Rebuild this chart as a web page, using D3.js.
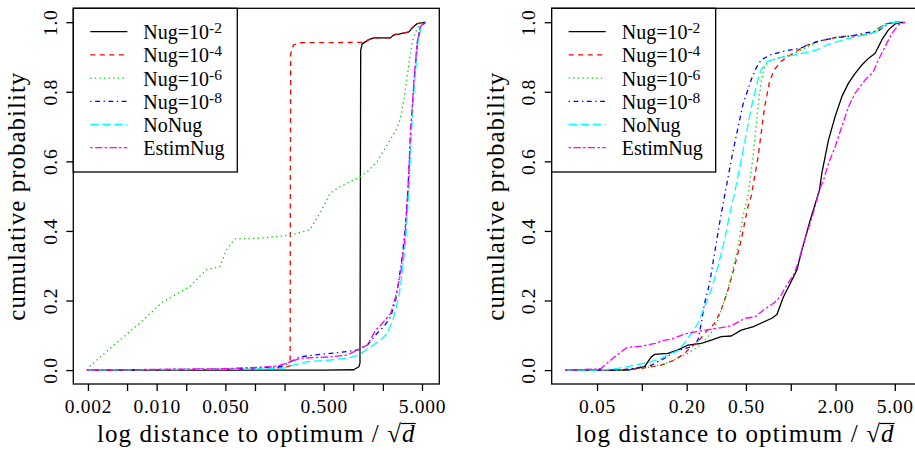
<!DOCTYPE html>
<html>
<head>
<meta charset="utf-8">
<script src="https://cdn.jsdelivr.net/npm/d3@7"></script>
<style>
  html, body { margin: 0; padding: 0; background: #fff; }
  svg { display: block; }
  text { font-family: "Liberation Serif", "Times New Roman", serif; fill: #000; }
</style>
</head>
<body>
<svg id="chart" width="915" height="450"></svg>
<script>
// ---------------- DATA ----------------
const seriesNames = ["Nug=10", "Nug=10", "Nug=10", "Nug=10", "NoNug", "EstimNug"];
const seriesExponents = ["-2", "-4", "-6", "-8", "", ""];
const seriesColors = ["#000000", "#FF0000", "#00CD00", "#0000FF", "#00FFFF", "#FF00FF"];

const yTicks = [0, 0.2, 0.4, 0.6, 0.8, 1.0];
const yTickLabels = ["0.0", "0.2", "0.4", "0.6", "0.8", "1.0"];

const leftXTicks = [0.002, 0.005, 0.01, 0.02, 0.05, 0.1, 0.2, 0.5, 1, 2, 5];
const leftXTickLabels = ["0.002", "", "0.010", "", "0.050", "", "", "0.500", "", "", "5.000"];
const rightXTicks = [0.05, 0.1, 0.2, 0.5, 1, 2, 5];
const rightXTickLabels = ["0.05", "", "0.20", "0.50", "", "2.00", "5.00"];

const xTitle = "log distance to optimum / ";
const yTitle = "cumulative probability";

// left panel: [distance, cumulative probability]
const leftNug2 = [[0.00195,0],[0.5,0],[1.01,0.001],[1.14,0.0095],[1.17,0.02],[1.18,0.5],[1.19,0.92],[1.23,0.937],[1.3,0.942],[1.44,0.95],[1.62,0.955],[2.39,0.955],[2.59,0.964],[2.91,0.966],[3.68,0.972],[3.99,0.984],[4.48,0.996],[5.45,1.0]];
const leftNug4 = [[0.00195,0],[0.1,0.002],[0.2,0.008],[0.228,0.012],[0.229,0.5],[0.231,0.91],[0.247,0.935],[0.289,0.941],[1.28,0.942],[1.44,0.95],[1.62,0.955],[2.39,0.955],[2.59,0.964],[2.91,0.966],[3.68,0.972],[3.99,0.984],[4.48,0.996],[5.45,1.0]];
const leftNug6 = [[0.00195,0],[0.00206,0.0095],[0.00386,0.077],[0.00669,0.134],[0.01156,0.196],[0.0217,0.240],[0.032,0.288],[0.0439,0.297],[0.0512,0.345],[0.0624,0.377],[0.112,0.379],[0.227,0.388],[0.31,0.398],[0.361,0.403],[0.458,0.451],[0.58,0.508],[0.733,0.527],[1.17,0.556],[1.39,0.570],[1.75,0.600],[2.22,0.648],[2.8,0.696],[3.03,0.725],[3.27,0.777],[3.55,0.849],[3.99,0.945],[4.49,0.984],[4.85,0.998],[5.33,1.0]];
const leftNug8 = [[0.00195,0],[0.05,0.003],[0.15,0.008],[0.195,0.012],[0.229,0.024],[0.289,0.038],[0.396,0.043],[0.585,0.048],[0.867,0.053],[1.14,0.059],[1.39,0.072],[1.75,0.106],[2.05,0.125],[2.40,0.153],[2.70,0.201],[2.91,0.259],[3.15,0.326],[3.41,0.422],[3.60,0.518],[3.83,0.681],[4.14,0.825],[4.49,0.94],[4.85,0.987],[5.46,1.0]];
const leftNoNug = [[0.00195,0],[0.1,0.003],[0.2,0.006],[0.247,0.014],[0.339,0.024],[0.585,0.029],[0.867,0.034],[1.14,0.043],[1.50,0.067],[1.90,0.086],[2.22,0.106],[2.59,0.153],[2.91,0.211],[3.15,0.278],[3.41,0.374],[3.68,0.518],[3.9,0.68],[4.2,0.825],[4.55,0.94],[4.9,0.987],[5.46,1.0]];
const leftEstimNug = [[0.00195,0],[0.05,0.004],[0.15,0.01],[0.181,0.014],[0.229,0.024],[0.289,0.034],[0.585,0.038],[0.867,0.043],[1.10,0.058],[1.39,0.072],[1.69,0.115],[1.90,0.129],[2.40,0.163],[2.70,0.211],[3.03,0.278],[3.33,0.374],[3.60,0.518],[3.83,0.69],[4.14,0.83],[4.45,0.94],[4.8,0.988],[5.4,1.0]];

// right panel
const rightNug2 = [[0.0306,0],[0.0807,0],[0.1043,0.01],[0.1157,0.038],[0.1218,0.045],[0.1498,0.048],[0.1748,0.058],[0.204,0.072],[0.2506,0.077],[0.2925,0.086],[0.3413,0.096],[0.3984,0.098],[0.465,0.115],[0.5623,0.125],[0.6404,0.136],[0.7474,0.149],[0.8075,0.16],[0.8939,0.211],[0.9915,0.249],[1.0998,0.288],[1.188,0.345],[1.351,0.431],[1.56,0.518],[1.618,0.566],[1.792,0.661],[1.987,0.729],[2.204,0.786],[2.441,0.825],[2.707,0.853],[3.002,0.877],[3.325,0.896],[3.688,0.911],[4.09,0.949],[4.529,0.978],[5.023,0.995],[5.71,1.0]];
const rightNug4 = [[0.0306,0],[0.0692,0],[0.0992,0.005],[0.135,0.014],[0.1659,0.029],[0.1936,0.048],[0.2147,0.067],[0.2381,0.081],[0.2637,0.106],[0.3078,0.134],[0.3413,0.173],[0.3786,0.230],[0.4193,0.297],[0.465,0.374],[0.5156,0.470],[0.5428,0.5],[0.602,0.610],[0.6666,0.754],[0.7203,0.830],[0.778,0.864],[0.8627,0.888],[1.007,0.907],[1.237,0.931],[1.521,0.945],[2.092,0.958],[3.002,0.963],[3.504,0.968],[3.88,0.982],[4.304,0.995],[5.023,1.0],[5.511,1.0]];
const rightNug6 = [[0.0306,0],[0.0692,0],[0.0894,0.002],[0.1157,0.0095],[0.1498,0.021],[0.1748,0.034],[0.204,0.048],[0.2381,0.067],[0.2637,0.086],[0.2925,0.106],[0.3244,0.144],[0.3592,0.201],[0.3984,0.268],[0.4418,0.355],[0.4773,0.441],[0.5156,0.5],[0.5572,0.610],[0.602,0.754],[0.6335,0.830],[0.6666,0.873],[0.7203,0.888],[0.82,0.897],[1.007,0.907],[1.237,0.925],[1.521,0.945],[2.092,0.958],[3.002,0.963],[3.504,0.968],[3.88,0.982],[4.304,0.995],[5.023,1.0],[5.511,1.0]];
const rightNug8 = [[0.0306,0],[0.0692,0],[0.0894,0.005],[0.1157,0.014],[0.1421,0.034],[0.1659,0.053],[0.1936,0.062],[0.2147,0.067],[0.2381,0.086],[0.2506,0.134],[0.2637,0.192],[0.2849,0.249],[0.3078,0.336],[0.3325,0.422],[0.3592,0.5],[0.4091,0.629],[0.4773,0.763],[0.5428,0.835],[0.5864,0.869],[0.6335,0.892],[0.7394,0.907],[0.9081,0.917],[1.175,0.926],[1.521,0.945],[1.966,0.955],[2.545,0.960],[3.126,0.969],[3.845,0.974],[4.258,0.988],[4.723,0.998],[5.657,1.0]];
const rightNoNug = [[0.0306,0],[0.0534,0],[0.0692,0.005],[0.0894,0.014],[0.1157,0.024],[0.135,0.034],[0.1576,0.048],[0.1748,0.056],[0.1936,0.077],[0.2147,0.106],[0.2381,0.134],[0.2637,0.182],[0.2925,0.230],[0.3244,0.297],[0.3592,0.374],[0.3984,0.470],[0.4155,0.5],[0.4773,0.629],[0.5428,0.754],[0.602,0.835],[0.6335,0.864],[0.7027,0.888],[0.82,0.897],[0.957,0.902],[1.237,0.912],[1.521,0.921],[1.775,0.936],[2.295,0.950],[3.126,0.964],[3.745,0.972],[4.258,0.991],[4.723,0.998],[5.511,1.0]];
const rightEstimNug = [[0.0306,0],[0.05,0.003],[0.0534,0.005],[0.0598,0.024],[0.0657,0.038],[0.0795,0.065],[0.1002,0.069],[0.1231,0.077],[0.1365,0.084],[0.1593,0.090],[0.1957,0.104],[0.2284,0.110],[0.2666,0.115],[0.3244,0.120],[0.4027,0.128],[0.4945,0.149],[0.5775,0.153],[0.6564,0.173],[0.7661,0.192],[0.8495,0.211],[0.918,0.237],[1.0435,0.273],[1.127,0.311],[1.218,0.364],[1.351,0.422],[1.459,0.470],[1.56,0.518],[1.659,0.546],[1.792,0.594],[1.987,0.642],[2.204,0.700],[2.441,0.757],[2.707,0.796],[3.16,0.834],[3.592,0.858],[3.88,0.892],[4.304,0.930],[4.775,0.968],[5.286,0.992],[5.863,1.0]];

const leftSeries = [leftNug2, leftNug4, leftNug6, leftNug8, leftNoNug, leftEstimNug];
const rightSeries = [rightNug2, rightNug4, rightNug6, rightNug8, rightNoNug, rightEstimNug];

// ---------------- STYLE ----------------
const dashes = ["", "5,4.5", "1.3,3.3", "1.3,3.6,4.8,3.6", "8.4,3.6", "2.4,2.4,7.2,2.4"];
const LW = 1.3;

const svg = d3.select("#chart");

function panel(cfg) {
  const { left, right, top, bottom, series, xTicks, xTickLabels } = cfg;
  const g = svg.append("g");

  // R-style padded domains (4%) in log space
  const allX = series.flat().map(d => d[0]);
  const lx = d3.extent(allX).map(Math.log10);
  const padX = (lx[1] - lx[0]) * 0.04;
  const x = d3.scaleLog()
    .domain([Math.pow(10, lx[0] - padX), Math.pow(10, lx[1] + padX)])
    .range([left, right]);
  const y = d3.scaleLinear().domain([-0.04, 1.04]).range([bottom, top]);

  const cid = "clip" + Math.round(left);
  svg.append("clipPath").attr("id", cid)
    .append("rect").attr("x", left).attr("y", top)
    .attr("width", right - left).attr("height", bottom - top);

  const line = d3.line().x(d => x(d[0])).y(d => y(d[1]));
  const lg = g.append("g").attr("clip-path", `url(#${cid})`);
  series.forEach((s, i) => {
    lg.append("path")
      .attr("d", line(s))
      .attr("fill", "none")
      .attr("stroke", seriesColors[i])
      .attr("stroke-width", LW)
      .attr("stroke-dasharray", dashes[i] || null)
      .attr("stroke-linejoin", "round");
  });

  // x axis
  const xAxis = d3.axisBottom(x)
    .tickValues(xTicks)
    .tickSize(7)
    .tickFormat((d, i) => xTickLabels[i]);
  const xg = g.append("g").attr("transform", `translate(0,${bottom})`).call(xAxis);
  xg.select(".domain").remove();
  xg.selectAll(".tick line").attr("stroke", "#000").attr("stroke-width", LW);
  xg.selectAll(".tick text")
    .attr("y", 28.7).attr("dy", 0)
    .style("font-family", "Liberation Serif, serif")
    .style("font-size", "19.5px")
    .style("letter-spacing", "0.7px").attr("fill", "#000");

  // y axis
  const yAxis = d3.axisLeft(y)
    .tickValues(yTicks)
    .tickSize(7)
    .tickFormat((d, i) => yTickLabels[i]);
  const yg = g.append("g").attr("transform", `translate(${left},0)`).call(yAxis);
  yg.select(".domain").remove();
  yg.selectAll(".tick line").attr("stroke", "#000").attr("stroke-width", LW);
  yg.selectAll(".tick text")
    .attr("transform", "rotate(-90)")
    .attr("x", 0).attr("y", -16.5).attr("dy", 0)
    .attr("text-anchor", "middle")
    .style("font-family", "Liberation Serif, serif")
    .style("font-size", "19.5px")
    .style("letter-spacing", "0.7px").attr("fill", "#000");

  // box
  g.append("rect")
    .attr("x", left).attr("y", top)
    .attr("width", right - left).attr("height", bottom - top)
    .attr("fill", "none").attr("stroke", "#000").attr("stroke-width", LW);

  // x title with sqrt(d)
  const cx = (left + right) / 2;
  const xt = g.append("text")
    .attr("x", cx).attr("y", 442)
    .attr("text-anchor", "middle")
    .style("font-size", "25px")
    .style("letter-spacing", "1.1px");
  xt.append("tspan").text(xTitle);
  const rad = xt.append("tspan").text("\u221A");
  const dd = xt.append("tspan").attr("font-style", "italic").text("d");
  const radNode = rad.node(), dNode = dd.node();
  const xs = radNode.getEndPositionOfChar(0).x - 1.2;
  const xe = dNode.getEndPositionOfChar(0).x;
  g.append("line")
    .attr("x1", xs).attr("x2", xe)
    .attr("y1", 423.5).attr("y2", 423.5)
    .attr("stroke", "#000").attr("stroke-width", 1.2);

  // y title
  const cy = (top + bottom) / 2;
  g.append("text")
    .attr("transform", `translate(${left - 48},${cy}) rotate(-90)`)
    .attr("text-anchor", "middle")
    .style("font-size", "25px")
    .style("letter-spacing", "1px")
    .text(yTitle);

  // legend
  const legW = 164, legH = 172 - top;
  g.append("rect")
    .attr("x", left).attr("y", top)
    .attr("width", legW).attr("height", legH)
    .attr("fill", "#fff").attr("stroke", "#000").attr("stroke-width", LW);
  const rowY = d3.scaleLinear().domain([0, 5]).range([top + 23.4, top + 139.4]);
  seriesNames.forEach((nm, i) => {
    const yy = rowY(i);
    g.append("line")
      .attr("x1", left + 17).attr("x2", left + 54)
      .attr("y1", yy).attr("y2", yy)
      .attr("stroke", seriesColors[i]).attr("stroke-width", LW)
      .attr("stroke-dasharray", dashes[i] || null);
    const t = g.append("text")
      .attr("x", left + 70).attr("y", yy + 7.5)
      .style("font-size", "20px");
    t.append("tspan").text(nm);
    if (seriesExponents[i]) {
      t.append("tspan").attr("dy", -6).style("font-size", "15.5px").text(seriesExponents[i]);
    }
  });
}

panel({ left: 73.3, right: 439.3, top: 8.3, bottom: 384, series: leftSeries,
        xTicks: leftXTicks, xTickLabels: leftXTickLabels });
panel({ left: 551.7, right: 918.7, top: 8.3, bottom: 384, series: rightSeries,
        xTicks: rightXTicks, xTickLabels: rightXTickLabels });
</script>
</body>
</html>
